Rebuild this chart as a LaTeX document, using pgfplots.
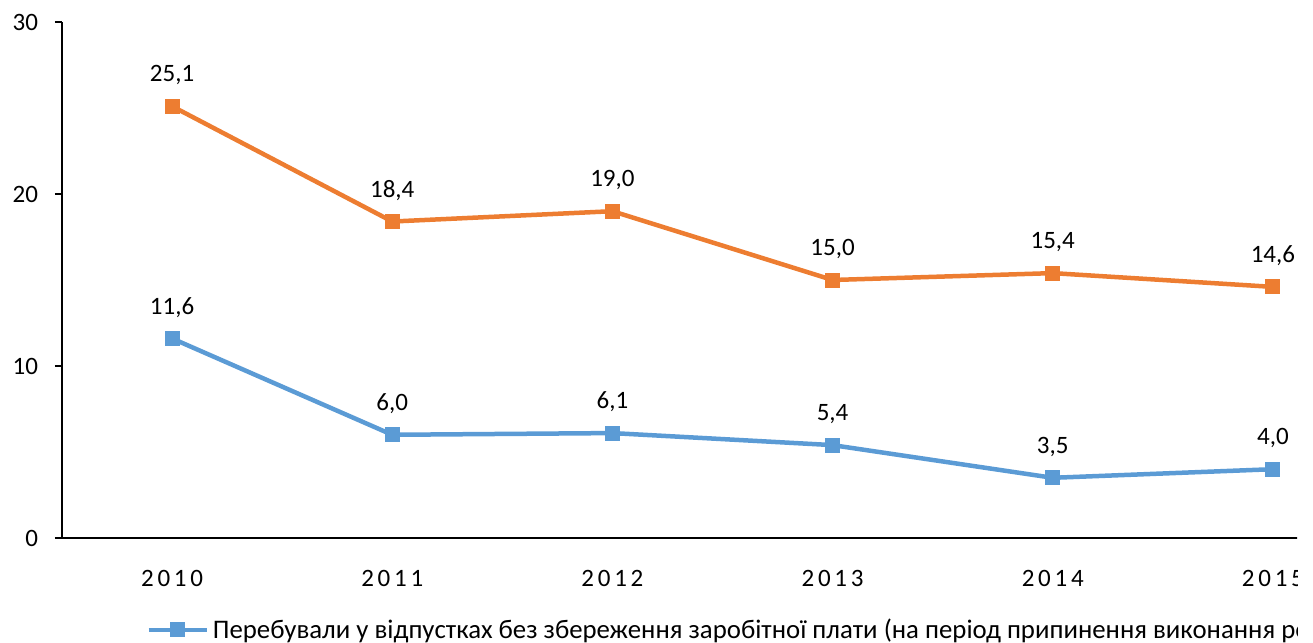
\documentclass[border=0pt]{standalone}
\usepackage{pgfplots}
\pgfplotsset{compat=1.18}
\usepackage{fontspec}
\setmainfont{Carlito}
\definecolor{cblue}{HTML}{5B9BD5}
\definecolor{corange}{HTML}{ED7D31}
\begin{document}
\begin{tikzpicture}
\useasboundingbox (0,0) rectangle (656.5pt,321.5pt);
\clip (0,0) rectangle (648.5pt,321.5pt);
\begin{axis}[
  at={(31pt,52.5pt)}, anchor=south west,
  scale only axis, width=660.5pt, height=258pt,
  xmin=-0.5, xmax=5.5, ymin=0, ymax=30,
  axis lines*=left,
  axis line style={line width=1pt, black},
  xtick={0,1,2,3,4,5},
  xticklabels={2010,2011,2012,2013,2014,2015},
  x tick label style={font=\fontsize{12.5}{15}\selectfont\addfontfeature{LetterSpace=15}, yshift=-9pt},
  major x tick style={draw=none},
  ytick={0,10,20,30},
  y tick label style={xshift=-5pt},
  tick align=outside, major tick length=3.5pt,
  major y tick style={line width=1pt, black},
  /pgf/number format/assume math mode=true,
  font=\fontsize{12.5}{15}\selectfont,
  nodes near coords,
  nodes near coords style={anchor=south, yshift=7pt, black, font=\fontsize{12.5}{15}\selectfont,
    /pgf/number format/.cd, fixed, fixed zerofill, precision=1, use comma},
  legend style={draw=none, fill=none, at={(0.0590,-0.178)}, anchor=west,
    font=\fontsize{13.4}{16}\selectfont},
  legend image code/.code={\draw[mark repeat=2,mark phase=2,#1] plot coordinates {(0pt,0pt) (14.5pt,0pt) (29pt,0pt)};},
]
\addplot[color=cblue, line width=2.25pt, mark=square*, mark size=3.5pt,
  mark options={solid, rounded corners=0.8pt, line width=0.5pt}]
  coordinates {(0,11.6) (1,6.0) (2,6.1) (3,5.4) (4,3.5) (5,4.0)};
\addlegendentry{Перебували у відпустках без збереження заробітної плати (на період припинення виконання робіт), \%}
\addplot[color=corange, line width=2.25pt, mark=square*, mark size=3.5pt,
  mark options={solid, rounded corners=0.8pt, line width=0.5pt}, forget plot]
  coordinates {(0,25.1) (1,18.4) (2,19.0) (3,15.0) (4,15.4) (5,14.6)};
\end{axis}
\end{tikzpicture}
\end{document}
